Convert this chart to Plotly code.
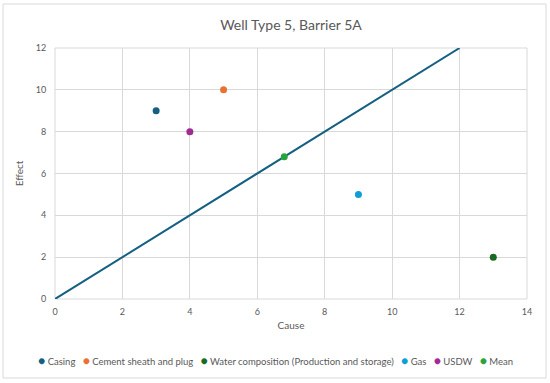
import plotly.graph_objects as go

title = "Well Type 5, Barrier 5A"
series_names = ["Casing", "Cement sheath and plug", "Water composition (Production and storage)", "Gas", "USDW", "Mean"]
cause = [3, 5, 13, 9, 4, 6.8]
effect = [9, 10, 2, 5, 8, 6.8]
colors = ["#156082", "#E97132", "#196B24", "#0F9ED5", "#A02B93", "#28A53A"]
line_x = [0, 12]
line_y = [0, 12]

FONT = "Lato, Open Sans, sans-serif"

fig = go.Figure()
fig.add_trace(go.Scatter(x=line_x, y=line_y, mode="lines",
                         line=dict(color="#156082", width=2), showlegend=False, hoverinfo="skip"))
for name, cx, ey, col in zip(series_names, cause, effect, colors):
    fig.add_trace(go.Scatter(x=[cx], y=[ey], mode="markers", name=name, showlegend=False,
                             marker=dict(color=col, size=7)))

L, R, T, B = 55, 23, 48, 84
W, H = 550, 383
pw, ph = W - L - R, H - T - B

# legend built as a single text line: coloured bullet + series name
legend_text = "&nbsp;&nbsp;&nbsp;".join(
    f'<span style="color:{c};font-size:12px">●</span> {n}' for n, c in zip(series_names, colors))

fig.update_layout(
    width=W, height=H,
    margin=dict(l=L, r=R, t=T, b=B, autoexpand=False),
    paper_bgcolor="white", plot_bgcolor="white",
    font=dict(family=FONT, color="#595959", size=9),
    showlegend=False,
    title=dict(text=title, x=(L + pw / 2) / W, xanchor="center", y=1 - 25 / H, yanchor="middle",
               font=dict(family=FONT, size=14, color="#595959")),
    xaxis=dict(range=[0, 14], dtick=2, showgrid=True, gridcolor="#d9d9d9", gridwidth=1,
               zeroline=False, showline=False, ticks="outside", ticklen=4, tickcolor="rgba(0,0,0,0)",
               tickfont=dict(family=FONT, size=9, color="#595959"),
               title=dict(text="Cause", font=dict(family=FONT, size=10, color="#595959"), standoff=6)),
    yaxis=dict(range=[0, 12], dtick=2, showgrid=True, gridcolor="#d9d9d9", gridwidth=1,
               zeroline=False, showline=False, ticks="outside", ticklen=6, tickcolor="rgba(0,0,0,0)",
               tickfont=dict(family=FONT, size=9, color="#595959"),
               title=dict(text="Effect", font=dict(family=FONT, size=10, color="#595959"), standoff=10)),
    annotations=[dict(text=legend_text, xref="paper", yref="paper", x=(W / 2 - L) / pw, y=(299 - 360) / ph,
                      xanchor="center", yanchor="middle", showarrow=False,
                      font=dict(family=FONT, size=9.5, color="#595959"))],
)
fig.add_shape(type="rect", xref="paper", yref="paper", x0=0, y0=0, x1=1, y1=1,
              line=dict(color="#d9d9d9", width=1), layer="below")
fig.add_shape(type="rect", xref="paper", yref="paper",
              x0=(3 - L) / pw, x1=(546 - L) / pw, y0=(299 - 378) / ph, y1=(299 - 4) / ph,
              line=dict(color="#d9d9d9", width=1))

fig.write_html("out.html", config={"displayModeBar": False},
               post_script="document.body.style.margin='0px';")
